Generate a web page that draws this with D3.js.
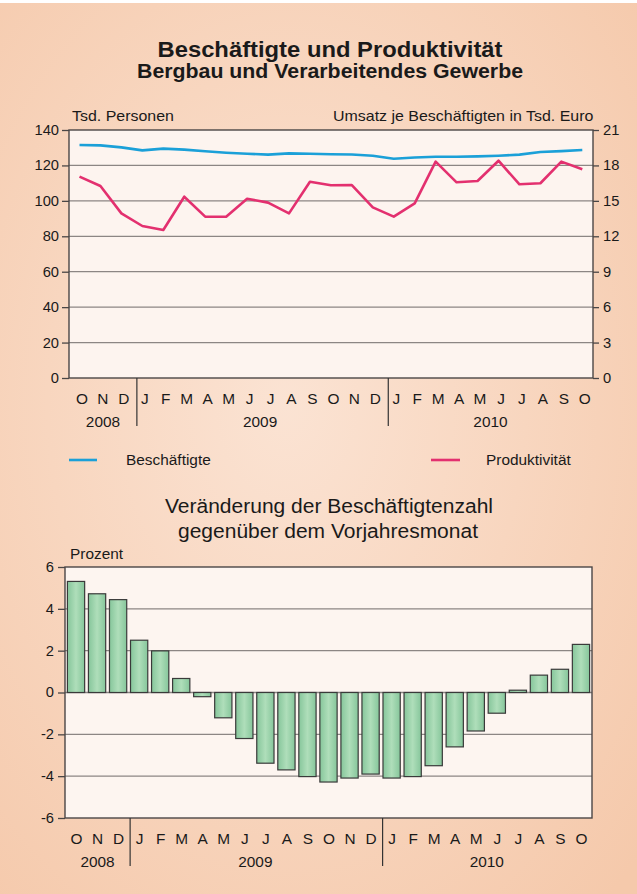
<!DOCTYPE html>
<html>
<head>
<meta charset="utf-8">
<script src="https://cdn.jsdelivr.net/npm/d3@7"></script>
<style>
  html, body { margin: 0; padding: 0; background: #f9d8c2; }
  svg { display: block; }
  text { font-family: "Liberation Sans", Arial, sans-serif; fill: #1a1a1a; }
</style>
</head>
<body>
<svg id="chart" width="637" height="894"></svg>
<script>
// ---------- data ----------
const months = ["O","N","D","J","F","M","A","M","J","J","A","S","O","N","D","J","F","M","A","M","J","J","A","S","O"];
const yearLabels = ["2008", "2009", "2010"];
const yearFirstMonth = [0, 3, 15];
const yearLastMonth = [2, 14, 24];

// Beschäftigte, Tsd. Personen (left axis)
const beschaeftigte = [131.5,131.3,130.2,128.5,129.5,128.9,128.0,127.2,126.6,126.1,126.8,126.6,126.3,126.2,125.5,123.8,124.5,124.9,124.9,125.1,125.5,126.1,127.6,128.1,128.7];
// Produktivität, Umsatz je Beschäftigten in Tsd. Euro (right axis)
const produktivitaet = [17.05,16.26,13.94,12.87,12.53,15.35,13.66,13.66,15.18,14.85,13.94,16.62,16.32,16.34,14.45,13.66,14.79,18.32,16.57,16.68,18.40,16.40,16.49,18.32,17.67];
// Veränderung der Beschäftigtenzahl gegenüber Vorjahresmonat, Prozent
const veraenderung = [5.31,4.72,4.44,2.50,1.99,0.67,-0.20,-1.21,-2.20,-3.38,-3.70,-4.02,-4.28,-4.09,-3.90,-4.09,-4.02,-3.50,-2.60,-1.84,-0.99,0.11,0.83,1.11,2.30];

const leftTicks = [0,20,40,60,80,100,120,140];
const rightTicks = [0,3,6,9,12,15,18,21];
const pctTicks = [-6,-4,-2,0,2,4,6];

const seriesNames = ["Beschäftigte", "Produktivität"];
const seriesColors = ["#1ba0d8", "#e3306f"];

// ---------- helpers ----------
const svg = d3.select("#chart");
function stretch(sel, f) {
  sel.each(function () {
    const len = this.getComputedTextLength();
    d3.select(this).attr("textLength", len * f).attr("lengthAdjust", "spacingAndGlyphs");
  });
  return sel;
}
const idx = d3.range(months.length);

// background
const defs = svg.append("defs");
const rg = defs.append("radialGradient").attr("id", "bg").attr("cx", "45%").attr("cy", "45%").attr("r", "75%");
rg.append("stop").attr("offset", "0%").attr("stop-color", "#fbe3d3");
rg.append("stop").attr("offset", "100%").attr("stop-color", "#f5c9ab");
svg.append("rect").attr("width", 637).attr("height", 894).attr("fill", "url(#bg)");
svg.append("rect").attr("width", 637).attr("height", 3).attr("fill", "#ffffff");

const bg = defs.append("linearGradient").attr("id", "barg").attr("x1", "0%").attr("x2", "100%");
bg.append("stop").attr("offset", "0%").attr("stop-color", "#86c69b");
bg.append("stop").attr("offset", "50%").attr("stop-color", "#afdeba");
bg.append("stop").attr("offset", "100%").attr("stop-color", "#86c69b");

// ---------- top chart ----------
const T = { left: 69, right: 593, top: 130, bottom: 378 };
const x = d3.scalePoint().domain(idx).range([79.5, 582.3]);
const yL = d3.scaleLinear().domain([0, 140]).range([T.bottom, T.top]);
const yR = d3.scaleLinear().domain([0, 21]).range([T.bottom, T.top]);

svg.append("text").attr("x", 330).attr("y", 57).attr("text-anchor", "middle")
  .style("font-size", "22px").style("font-weight", "bold")
  .attr("textLength", 345).attr("lengthAdjust", "spacingAndGlyphs")
  .text("Beschäftigte und Produktivität");
svg.append("text").attr("x", 330).attr("y", 78).attr("text-anchor", "middle")
  .style("font-size", "19.5px").style("font-weight", "bold")
  .attr("textLength", 386).attr("lengthAdjust", "spacingAndGlyphs")
  .text("Bergbau und Verarbeitendes Gewerbe");

stretch(svg.append("text").attr("x", 72).attr("y", 121).style("font-size", "14.5px").text("Tsd. Personen"), 1.1);
stretch(svg.append("text").attr("x", 333).attr("y", 121).style("font-size", "14.5px").text("Umsatz je Beschäftigten in Tsd. Euro"), 1.1);

svg.append("rect").attr("x", T.left).attr("y", T.top).attr("width", T.right - T.left).attr("height", T.bottom - T.top)
  .attr("fill", "#fdf4ef");

svg.append("g").selectAll("line").data(leftTicks.filter(d => d > 0 && d < 140)).join("line")
  .attr("x1", T.left).attr("x2", T.right).attr("y1", d => yL(d)).attr("y2", d => yL(d))
  .attr("stroke", "#8c8684").attr("stroke-width", 1.3);

svg.append("rect").attr("x", T.left).attr("y", T.top).attr("width", T.right - T.left).attr("height", T.bottom - T.top)
  .attr("fill", "none").attr("stroke", "#4a4646").attr("stroke-width", 1.4);

const axL = svg.append("g").attr("transform", `translate(${T.left},0)`)
  .call(d3.axisLeft(yL).tickValues(leftTicks).tickSize(7).tickPadding(3).tickFormat(d => String(d)));
const axR = svg.append("g").attr("transform", `translate(${T.right},0)`)
  .call(d3.axisRight(yR).tickValues(rightTicks).tickSize(6).tickPadding(4).tickFormat(d => String(d)));
[axL, axR].forEach(a => {
  a.select(".domain").remove();
  a.selectAll("line").attr("stroke", "#4a4646").attr("stroke-width", 1.3);
  a.selectAll("text").style("font-size", "14px").attr("fill", "#1a1a1a").style("font-family", '"Liberation Sans", Arial, sans-serif');
  stretch(a.selectAll("text"), 1.05);
});

const lineL = d3.line().x((d, i) => x(i)).y(d => yL(d));
const lineR = d3.line().x((d, i) => x(i)).y(d => yR(d));
svg.append("path").datum(beschaeftigte).attr("d", lineL).attr("fill", "none")
  .attr("stroke", seriesColors[0]).attr("stroke-width", 2.6).attr("stroke-linejoin", "round");
svg.append("path").datum(produktivitaet).attr("d", lineR).attr("fill", "none")
  .attr("stroke", seriesColors[1]).attr("stroke-width", 2.6).attr("stroke-linejoin", "round");

// month + year labels top
function monthAxis(xpos, axisY, dx, sepOffset) {
  stretch(svg.append("g").selectAll("text").data(idx).join("text")
    .attr("x", i => xpos(i) + dx).attr("y", axisY + 26).attr("text-anchor", "middle")
    .style("font-size", "14px").attr("fill", "#2a2a2a").text(i => months[i]), 1.1);
  stretch(svg.append("g").selectAll("text").data(yearLabels).join("text")
    .attr("x", (d, k) => (xpos(yearFirstMonth[k]) + xpos(yearLastMonth[k])) / 2 + dx)
    .attr("y", axisY + 48.5).attr("text-anchor", "middle")
    .style("font-size", "14px").text(d => d), 1.1);
  svg.append("g").selectAll("line").data(yearFirstMonth.slice(1)).join("line")
    .attr("x1", i => (xpos(i - 1) + xpos(i)) / 2 + sepOffset)
    .attr("x2", i => (xpos(i - 1) + xpos(i)) / 2 + sepOffset)
    .attr("y1", axisY).attr("y2", axisY + 48)
    .attr("stroke", "#333").attr("stroke-width", 1.2);
}
monthAxis(i => x(i), T.bottom, 2.5, 5);

// legend
const legend = [{ x1: 69, x2: 97, tx: 126 }, { x1: 431, x2: 460, tx: 486 }];
legend.forEach((l, k) => {
  svg.append("line").attr("x1", l.x1).attr("x2", l.x2).attr("y1", 460).attr("y2", 460)
    .attr("stroke", seriesColors[k]).attr("stroke-width", 2.6);
  stretch(svg.append("text").attr("x", l.tx).attr("y", 465).style("font-size", "14px").text(seriesNames[k]), 1.1);
});

// ---------- bottom chart ----------
const B = { left: 65, right: 592, top: 567, bottom: 818 };
const xb = d3.scaleBand().domain(idx).range([65.5, 591.5]).paddingInner(0.18).paddingOuter(0.09);
const yb = d3.scaleLinear().domain([-6, 6]).range([B.bottom, B.top]);

svg.append("text").attr("x", 329).attr("y", 513).attr("text-anchor", "middle")
  .style("font-size", "19.5px").attr("fill", "#222")
  .attr("textLength", 328).attr("lengthAdjust", "spacingAndGlyphs")
  .text("Veränderung der Beschäftigtenzahl");
svg.append("text").attr("x", 328).attr("y", 538).attr("text-anchor", "middle")
  .style("font-size", "19.5px").attr("fill", "#222")
  .attr("textLength", 300).attr("lengthAdjust", "spacingAndGlyphs")
  .text("gegenüber dem Vorjahresmonat");
stretch(svg.append("text").attr("x", 70).attr("y", 559).style("font-size", "14px").text("Prozent"), 1.1);

svg.append("rect").attr("x", B.left).attr("y", B.top).attr("width", B.right - B.left).attr("height", B.bottom - B.top)
  .attr("fill", "#fdf5f0");
svg.append("g").selectAll("line").data(pctTicks.filter(d => d > -6 && d < 6)).join("line")
  .attr("x1", B.left).attr("x2", B.right).attr("y1", d => yb(d)).attr("y2", d => yb(d))
  .attr("stroke", "#8c8684").attr("stroke-width", 1.3);

svg.append("g").selectAll("rect").data(veraenderung).join("rect")
  .attr("x", (d, i) => xb(i)).attr("width", xb.bandwidth())
  .attr("y", d => yb(Math.max(0, d))).attr("height", d => Math.abs(yb(d) - yb(0)))
  .attr("fill", "url(#barg)").attr("stroke", "#3a3a3a").attr("stroke-width", 1.2);

svg.append("rect").attr("x", B.left).attr("y", B.top).attr("width", B.right - B.left).attr("height", B.bottom - B.top)
  .attr("fill", "none").attr("stroke", "#4a4646").attr("stroke-width", 1.4);

const axB = svg.append("g").attr("transform", `translate(${B.left},0)`)
  .call(d3.axisLeft(yb).tickValues(pctTicks).tickSize(7).tickPadding(4).tickFormat(d => String(d)));
axB.select(".domain").remove();
axB.selectAll("line").attr("stroke", "#4a4646").attr("stroke-width", 1.3);
axB.selectAll("text").style("font-size", "14px").attr("fill", "#1a1a1a").style("font-family", '"Liberation Sans", Arial, sans-serif');
stretch(axB.selectAll("text"), 1.05);

monthAxis(i => xb(i) + xb.bandwidth() / 2, B.bottom, 0.5, 1.5);
</script>
</body>
</html>
